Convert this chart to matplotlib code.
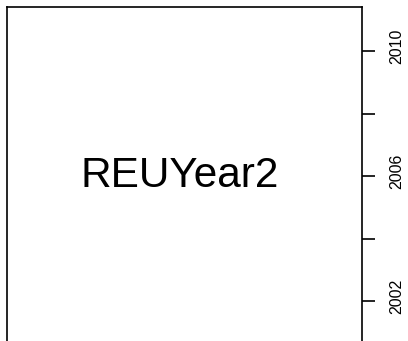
import matplotlib
matplotlib.use("Agg")
import matplotlib.pyplot as plt
from matplotlib.transforms import ScaledTranslation

# pairs() diagonal panel: variable name with its axis on the right
var_name = "REUYear2"
year_ticks = [2002, 2004, 2006, 2008, 2010]
year_labels = ["2002", "", "2006", "", "2010"]
year_lim = (2000.6, 2011.4)

plt.rcParams['font.family'] = ['Liberation Sans', 'DejaVu Sans']

W, H = 408, 341
fig = plt.figure(figsize=(W / 100, H / 100), dpi=100)

left, right = 7.3 / W, 361.7 / W
top, bottom = 1 - 7.3 / H, 1 - 345.3 / H
ax = fig.add_axes([left, bottom, right - left, top - bottom])

ax.set_xlim(0, 1)
ax.set_ylim(*year_lim)
ax.set_xticks([])
ax.yaxis.tick_right()
ax.set_yticks(year_ticks)
ax.set_yticklabels(year_labels, rotation=90, va='center', fontsize=11.5)
ax.tick_params(axis='y', length=9.5, width=1.2, pad=10.5, color='black')
for s in ax.spines.values():
    s.set_linewidth(1.2)

# R draws these labels a little above their ticks
shift = ScaledTranslation(0, 5 / 100, fig.dpi_scale_trans)
for lab in ax.get_yticklabels():
    lab.set_transform(lab.get_transform() + shift)

ax.text(0.487, (year_lim[0] + year_lim[1]) / 2, var_name, ha='center', va='center',
        fontsize=30.5)

fig.savefig("out.png", dpi=100)
